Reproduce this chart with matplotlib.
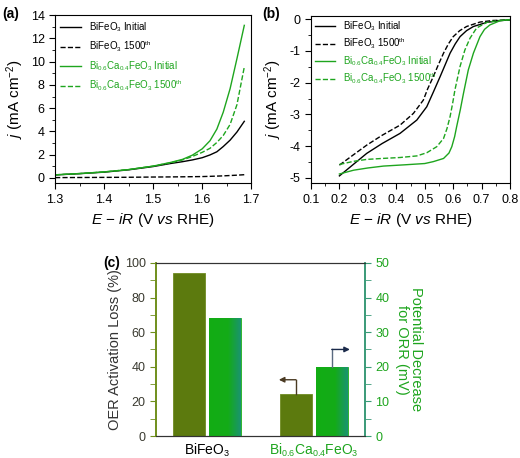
import matplotlib.pyplot as plt
import matplotlib._mathtext as mathtext_internal
import numpy as np
from matplotlib.colors import LinearSegmentedColormap
from matplotlib.ticker import MultipleLocator

plt.rcParams['font.family'] = ['Liberation Sans', 'DejaVu Sans']
plt.rcParams['mathtext.fontset'] = 'custom'
plt.rcParams['mathtext.rm'] = 'Liberation Sans'
plt.rcParams['mathtext.it'] = 'Liberation Sans:italic'
plt.rcParams['mathtext.bf'] = 'Liberation Sans:bold'
# the original uses rather small sub/superscripts
mathtext_internal.SHRINK_FACTOR = 0.64

GREEN = '#1ea51e'
OLIVE = '#5c7a0e'

# ---- (a) OER polarisation curves ----
oer_v = [1.30, 1.35, 1.40, 1.45, 1.50, 1.535, 1.56, 1.58, 1.60, 1.616, 1.63, 1.643, 1.657, 1.671, 1.686]
oer_bfo_init = [0.26, 0.37, 0.50, 0.70, 0.98, 1.24, 1.40, 1.55, 1.74, 1.98, 2.25, 2.70, 3.25, 3.95, 4.87]
oer_bfo_1500 = [0.03, 0.04, 0.05, 0.06, 0.08, 0.09, 0.10, 0.11, 0.12, 0.14, 0.16, 0.18, 0.21, 0.24, 0.28]
oer_bca_init = [0.27, 0.38, 0.52, 0.72, 1.02, 1.33, 1.60, 1.96, 2.50, 3.20, 4.20, 5.65, 7.67, 10.26, 13.12]
oer_bca_1500 = [0.27, 0.38, 0.52, 0.72, 1.02, 1.30, 1.55, 1.85, 2.20, 2.55, 3.05, 3.65, 4.60, 6.30, 9.54]

# ---- (b) ORR polarisation curves ----
orr_v_bfo_init = [0.20, 0.25, 0.296, 0.35, 0.413, 0.472, 0.507, 0.53, 0.554, 0.572, 0.589, 0.607, 0.624, 0.647, 0.671, 0.718, 0.76, 0.80]
orr_bfo_init = [-4.94, -4.57, -4.23, -3.92, -3.60, -3.18, -2.76, -2.30, -1.81, -1.43, -1.07, -0.78, -0.55, -0.36, -0.23, -0.10, -0.05, -0.02]
orr_v_bfo_1500 = [0.20, 0.25, 0.296, 0.35, 0.413, 0.46, 0.495, 0.51, 0.53, 0.548, 0.566, 0.583, 0.60, 0.623, 0.647, 0.694, 0.74, 0.80]
orr_bfo_1500 = [-4.60, -4.27, -3.97, -3.66, -3.34, -2.97, -2.55, -2.20, -1.81, -1.43, -1.07, -0.78, -0.55, -0.36, -0.23, -0.09, -0.04, -0.02]
orr_v_bca_init = [0.20, 0.25, 0.30, 0.355, 0.43, 0.50, 0.53, 0.566, 0.585, 0.595, 0.605, 0.612, 0.625, 0.636, 0.653, 0.671, 0.694, 0.71, 0.729, 0.764, 0.80]
orr_bca_init = [-4.88, -4.76, -4.69, -4.63, -4.59, -4.55, -4.49, -4.39, -4.22, -4.02, -3.70, -3.39, -2.85, -2.34, -1.60, -1.07, -0.55, -0.32, -0.18, -0.05, -0.01]
orr_v_bca_1500 = [0.20, 0.25, 0.296, 0.35, 0.413, 0.472, 0.507, 0.542, 0.566, 0.578, 0.589, 0.598, 0.606, 0.624, 0.641, 0.659, 0.682, 0.718, 0.76, 0.80]
orr_bca_1500 = [-4.58, -4.48, -4.42, -4.39, -4.36, -4.31, -4.21, -4.02, -3.76, -3.45, -3.07, -2.65, -2.23, -1.49, -0.97, -0.60, -0.28, -0.10, -0.04, -0.02]

legend_labels = ['BiFeO$_3$ Initial', 'BiFeO$_3$ 1500$^{\\mathrm{th}}$',
                 'Bi$_{0.6}$Ca$_{0.4}$FeO$_3$ Initial', 'Bi$_{0.6}$Ca$_{0.4}$FeO$_3$ 1500$^{\\mathrm{th}}$']
legend_colors = ['black', 'black', GREEN, GREEN]

# ---- (c) bar summary ----
materials = ['BiFeO$_3$', 'Bi$_{0.6}$Ca$_{0.4}$FeO$_3$']
oer_loss = [94, 24]        # %
orr_decrease = [34, 20]    # mV

fig = plt.figure(figsize=(5.2, 4.58), dpi=100)


def style_axes(ax):
    ax.tick_params(which='both', direction='out', top=False, right=False, labelsize=9)
    ax.tick_params(which='major', length=4)
    ax.tick_params(which='minor', length=2.5)
    ax.set_xlabel('$E$ \u2212 $iR$ (V $vs$ RHE)', fontsize=11)
    ax.set_ylabel('$j$ (mA cm$^{-2}$)', fontsize=11, labelpad=3)


def add_legend(ax, spacing, pad):
    leg = ax.legend(legend_labels, loc='upper left', frameon=False, fontsize=7,
                    handlelength=2.1, handletextpad=0.8, labelspacing=spacing,
                    borderpad=0.25, borderaxespad=pad)
    for txt, c in zip(leg.get_texts(), legend_colors):
        txt.set_color(c)


# panel (a)
axa = fig.add_axes([0.106, 0.600, 0.377, 0.367])
axa.plot(oer_v, oer_bfo_init, color='black', lw=1)
axa.plot(oer_v, oer_bfo_1500, color='black', lw=1, ls='--')
axa.plot(oer_v, oer_bca_init, color=GREEN, lw=1)
axa.plot(oer_v, oer_bca_1500, color=GREEN, lw=1, ls='--')
axa.set_xlim(1.3, 1.7)
axa.set_ylim(-0.45, 14)
axa.xaxis.set_major_locator(MultipleLocator(0.1))
axa.xaxis.set_minor_locator(MultipleLocator(0.05))
axa.yaxis.set_major_locator(MultipleLocator(2))
axa.yaxis.set_minor_locator(MultipleLocator(1))
style_axes(axa)
add_legend(axa, 0.5, 0.3)
fig.text(0.004, 0.985, '(a)', fontsize=10, fontweight='bold', va='top')

# panel (b)
axb = fig.add_axes([0.598, 0.600, 0.383, 0.365])
axb.plot(orr_v_bfo_init, orr_bfo_init, color='black', lw=1)
axb.plot(orr_v_bfo_1500, orr_bfo_1500, color='black', lw=1, ls='--')
axb.plot(orr_v_bca_init, orr_bca_init, color=GREEN, lw=1)
axb.plot(orr_v_bca_1500, orr_bca_1500, color=GREEN, lw=1, ls='--')
axb.set_xlim(0.1, 0.8)
axb.set_ylim(-5.17, 0.1)
axb.xaxis.set_major_locator(MultipleLocator(0.1))
axb.xaxis.set_minor_locator(MultipleLocator(0.05))
axb.yaxis.set_major_locator(MultipleLocator(1))
axb.yaxis.set_minor_locator(MultipleLocator(0.5))
axb.yaxis.set_major_formatter(plt.FuncFormatter(lambda v, p: '%d' % round(v)))
style_axes(axb)
add_legend(axb, 0.3, 0.12)
fig.text(0.505, 0.985, '(b)', fontsize=10, fontweight='bold', va='top')

# panel (c)
axc = fig.add_axes([0.300, 0.048, 0.402, 0.378])
axc2 = axc.twinx()
x = np.arange(len(materials))
off = 0.168
w = 0.30
dark_bars = axc.bar(x - off, oer_loss, width=w, color=OLIVE, edgecolor='#6f8c22', lw=0.6)
green_bars = axc2.bar(x + off, orr_decrease, width=w, color='#14ad14', edgecolor='#22b022', lw=0.6)

grad_cmap = LinearSegmentedColormap.from_list(
    'gt', [(0, '#12ad14'), (0.6, '#14ab18'), (1, '#1a9470')])
grad = np.linspace(0, 1, 64).reshape(1, -1)
for p in green_bars:
    bx, by = p.get_x(), p.get_y()
    im = axc2.imshow(grad, extent=[bx, bx + p.get_width(), by, by + p.get_height()],
                     cmap=grad_cmap, aspect='auto', zorder=p.get_zorder() + 0.1)
    im.set_clip_path(p)

axc.set_xlim(-0.48, 1.48)
axc.set_ylim(0, 100)
axc2.set_ylim(0, 50)
axc.set_xticks(x)
axc.set_xticklabels(materials, fontsize=10)
for lbl, c in zip(axc.get_xticklabels(), ['black', GREEN]):
    lbl.set_color(c)
axc.tick_params(axis='x', length=0, pad=4)
axc.yaxis.set_major_locator(MultipleLocator(20))
axc.yaxis.set_minor_locator(MultipleLocator(10))
axc2.yaxis.set_major_locator(MultipleLocator(10))
axc2.yaxis.set_minor_locator(MultipleLocator(5))
axc.tick_params(axis='y', which='both', direction='out', color='#6f8f1c', labelsize=9,
                labelcolor='#3a3a30')
axc.tick_params(axis='y', which='major', length=4)
axc.tick_params(axis='y', which='minor', length=4)
axc2.tick_params(axis='y', which='both', direction='out', color='#3a9a78', labelsize=9,
                 labelcolor=GREEN)
axc2.tick_params(axis='y', which='major', length=4)
axc2.tick_params(axis='y', which='minor', length=4)
for a in (axc, axc2):
    a.spines['left'].set_color('#6f8f1c')
    a.spines['right'].set_color('#3a9a78')
    a.spines['top'].set_color('#333333')
    a.spines['bottom'].set_color('#333333')
    a.spines['left'].set_linewidth(1.2)
    a.spines['right'].set_linewidth(1.2)
axc.set_ylabel('OER Activation Loss (%)', fontsize=10.5, color='#333333', labelpad=2)
axc2.set_ylabel('Potential Decrease\nfor ORR (mV)', fontsize=10.5, color=GREEN,
                rotation=270, labelpad=24, linespacing=1.0)

# arrows pointing to the relevant axis
ax0 = x[1] - off
axc.plot([ax0, ax0], [oer_loss[1], oer_loss[1] + 8.5], color='#4a3a22', lw=1)
axc.annotate('', xy=(ax0 - 0.16, oer_loss[1] + 8.5), xytext=(ax0, oer_loss[1] + 8.5),
             arrowprops=dict(arrowstyle='-|>', color='#4a3a22', lw=1,
                             mutation_scale=8, shrinkA=0, shrinkB=0))
gx0 = x[1] + off
axc2.plot([gx0, gx0], [orr_decrease[1], orr_decrease[1] + 5], color='#5a6a80', lw=1)
axc2.annotate('', xy=(gx0 + 0.17, orr_decrease[1] + 5), xytext=(gx0, orr_decrease[1] + 5),
              arrowprops=dict(arrowstyle='-|>', color='#1a2a4a', lw=1,
                              mutation_scale=8, shrinkA=0, shrinkB=0))
axc.set_xlim(-0.48, 1.48)
fig.text(0.198, 0.44, '(c)', fontsize=10, fontweight='bold', va='top')

fig.savefig('out.png', dpi=100)
